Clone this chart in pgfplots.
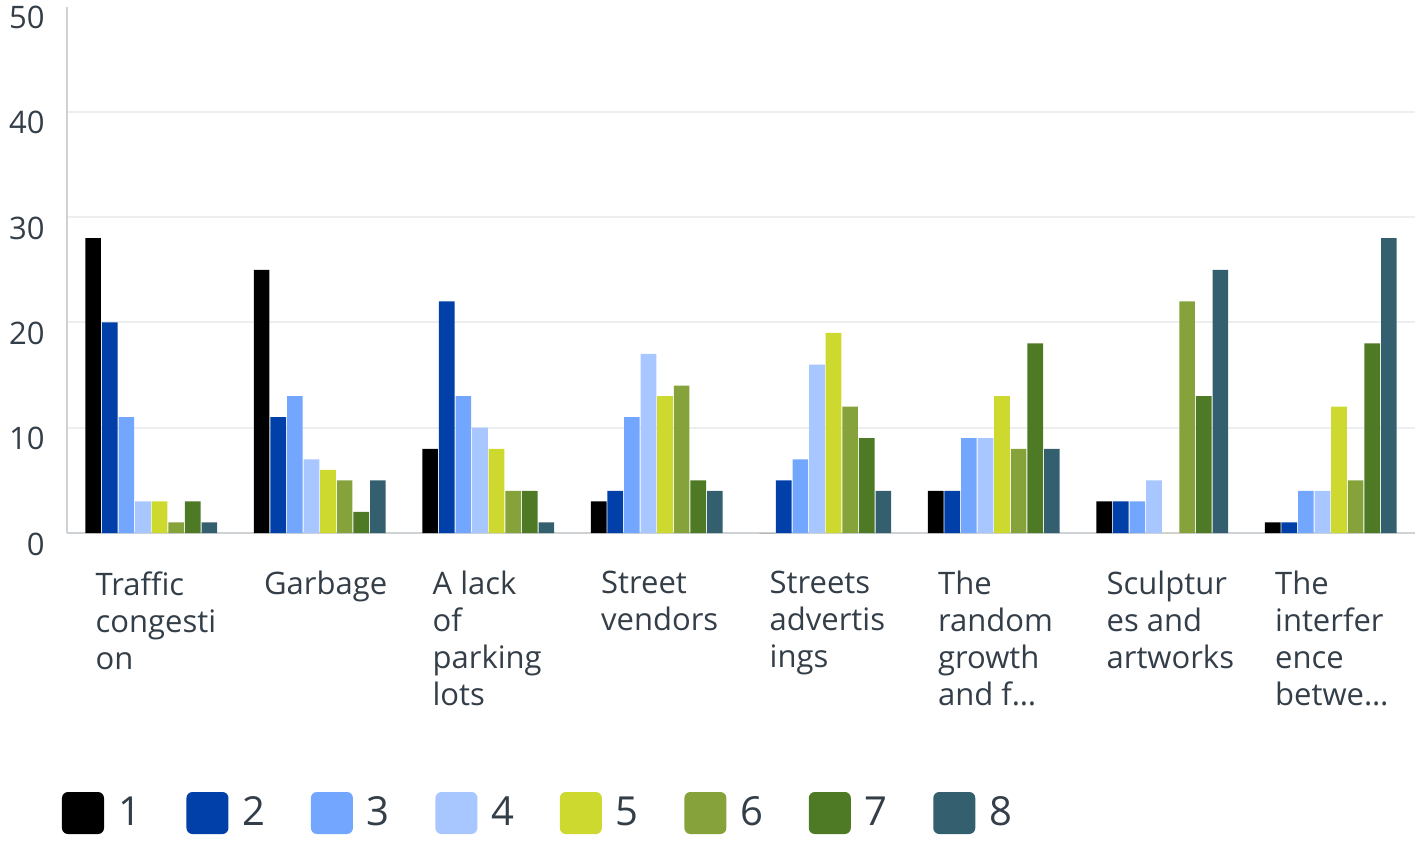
\documentclass[border=0pt]{standalone}
\usepackage{fontspec}
\setmainfont{Open Sans}
\usepackage{pgfplots}
\usepackage{pgfplotstable}
\pgfplotsset{compat=1.18}
\definecolor{c1}{HTML}{000000}
\definecolor{c2}{HTML}{0040A8}
\definecolor{c3}{HTML}{72A6FF}
\definecolor{c4}{HTML}{A8C6FF}
\definecolor{c5}{HTML}{CDD92E}
\definecolor{c6}{HTML}{86A23A}
\definecolor{c7}{HTML}{4E7A25}
\definecolor{c8}{HTML}{345F6E}
\definecolor{txt}{HTML}{333E48}
\definecolor{gridc}{HTML}{ECEEEF}
\definecolor{axisc}{HTML}{CFD2D4}
\pgfplotstableread{
x s1 s2 s3 s4 s5 s6 s7 s8
0 28 20 11 3 3 1 3 1
1 25 11 13 7 6 5 2 5
2 8 22 13 10 8 4 4 1
3 3 4 11 17 13 14 5 4
4 0 5 7 16 19 12 9 4
5 4 4 9 9 13 8 18 8
6 3 3 3 5 0 22 13 25
7 1 1 4 4 12 5 18 28
}\data
\begin{document}
\begin{tikzpicture}
\begin{axis}[
  scale only axis, width=674pt, height=263.25pt,
  xmin=-0.5, xmax=7.5, ymin=0, ymax=50,
  ytick={0,10,20,30,40}, extra y ticks={50}, extra y tick style={grid=none},
  ymajorgrids, major grid style={draw=gridc, line width=1pt},
  axis x line*=bottom, axis y line*=left,
  axis line style={draw=axisc, line width=1pt, -},
  major tick length=0pt,
  xtick={0,1,2,3,4,5,6,7},
  xticklabels={{Traffic\\congesti\\on},{Garbage},{A lack\\of\\parking\\lots},{Street\\vendors},{Streets\\advertis\\ings},{The\\random\\growth\\and f\ldots},{Sculptur\\es and\\artworks},{The\\interfer\\ence\\betwe\ldots}},
  xticklabel style={anchor=north west, align=left, inner sep=0pt, xshift=-28pt, yshift=-19pt, font=\fontsize{15.5}{18.5}\selectfont, text=txt},
  yticklabel style={anchor=east, inner sep=0pt, xshift=-11pt, yshift=-5.5pt, font=\fontsize{15.5}{18.5}\selectfont, text=txt},
  /pgf/number format/assume math mode=true,
  ybar, bar width=0.093,
  legend columns=8,
  legend image code/.code={\fill[#1, rounded corners=3pt] (0pt,-10.5pt) rectangle (21pt,10.5pt);},
  legend style={at={(axis description cs:0,0)}, anchor=north west, xshift=-2.5pt, yshift=-129.5pt,
    draw=none, inner sep=0pt, outer sep=0pt, font=\fontsize{20}{24}\selectfont, text=txt,
    /tikz/every odd column/.append style={column sep=5pt},
    /tikz/every even column/.append style={column sep=20.8pt}},
]
\addplot[fill=c1, draw=none, bar shift=-0.34475] table[x=x, y=s1] {\data};
\addplot[fill=c2, draw=none, bar shift=-0.24625] table[x=x, y=s2] {\data};
\addplot[fill=c3, draw=none, bar shift=-0.14775] table[x=x, y=s3] {\data};
\addplot[fill=c4, draw=none, bar shift=-0.04925] table[x=x, y=s4] {\data};
\addplot[fill=c5, draw=none, bar shift=0.04925] table[x=x, y=s5] {\data};
\addplot[fill=c6, draw=none, bar shift=0.14775] table[x=x, y=s6] {\data};
\addplot[fill=c7, draw=none, bar shift=0.24625] table[x=x, y=s7] {\data};
\addplot[fill=c8, draw=none, bar shift=0.34475] table[x=x, y=s8] {\data};
\legend{1,2,3,4,5,6,7,8}
\end{axis}
\path (-33.5pt,-154pt) rectangle (675.5pt,266.5pt);
\end{tikzpicture}
\end{document}
